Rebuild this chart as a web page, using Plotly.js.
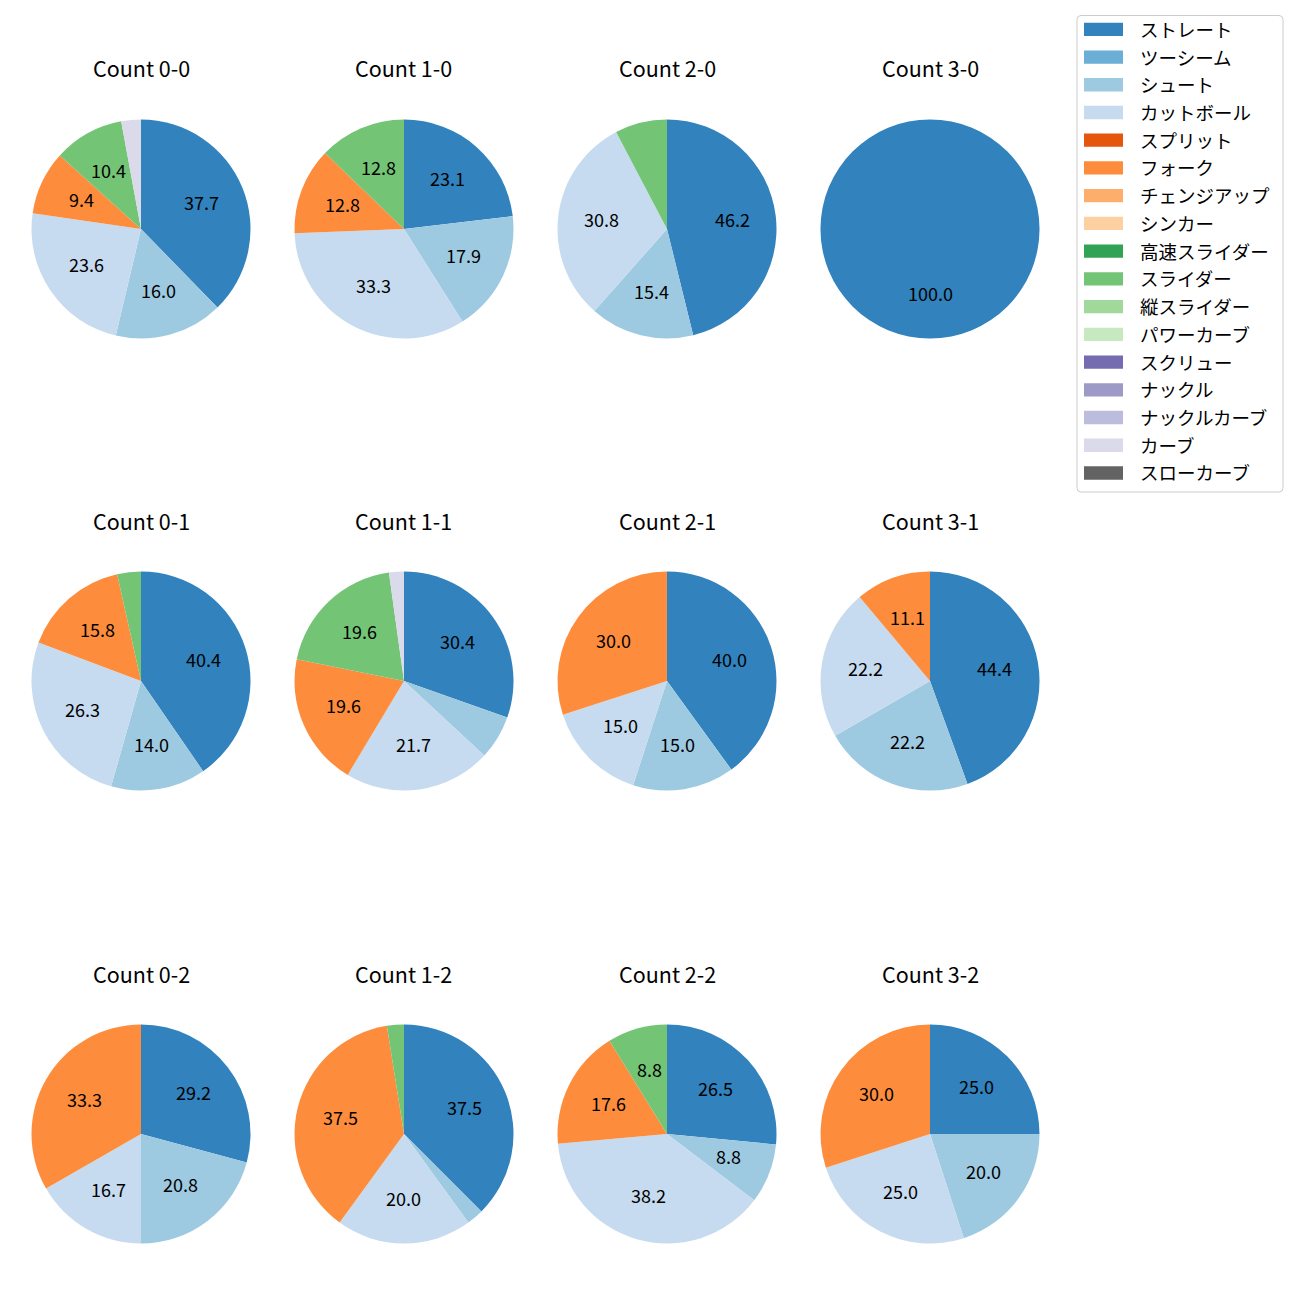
<!DOCTYPE html>
<html>
<head>
<meta charset="utf-8">
<script src="https://cdn.plot.ly/plotly-3.0.1.min.js"></script>
<style>body{margin:0;padding:0;background:#fff;}#chart{width:1300px;height:1300px;}</style>
</head>
<body>
<div id="chart"></div>
<script>
// Pitch types (legend order) and colours
const pitchTypes = ['ストレート','ツーシーム','シュート','カットボール','スプリット','フォーク','チェンジアップ','シンカー','高速スライダー','スライダー','縦スライダー','パワーカーブ','スクリュー','ナックル','ナックルカーブ','カーブ','スローカーブ'];
const pitchColors = ['#3182bd','#6baed6','#9ecae1','#c6dbef','#e6550d','#fd8d3c','#fdae6b','#fdd0a2','#31a354','#74c476','#a1d99b','#c7e9c0','#756bb1','#9e9ac8','#bcbddc','#dadaeb','#636363'];

// Count titles (row-major, 4 per row)
const countTitles = ['Count 0-0','Count 1-0','Count 2-0','Count 3-0','Count 0-1','Count 1-1','Count 2-1','Count 3-1','Count 0-2','Count 1-2','Count 2-2','Count 3-2'];

// Percentages per count, in pitchTypes order
const c00 = [37.7,0,16.0,23.6,0,9.4,0,0,0,10.4,0,0,0,0,0,2.9,0];
const c10 = [23.1,0,17.9,33.3,0,12.8,0,0,0,12.8,0,0,0,0,0,0,0];
const c20 = [46.2,0,15.4,30.8,0,0,0,0,0,7.7,0,0,0,0,0,0,0];
const c30 = [100.0,0,0,0,0,0,0,0,0,0,0,0,0,0,0,0,0];
const c01 = [40.4,0,14.0,26.3,0,15.8,0,0,0,3.5,0,0,0,0,0,0,0];
const c11 = [30.4,0,6.5,21.7,0,19.6,0,0,0,19.6,0,0,0,0,0,2.2,0];
const c21 = [40.0,0,15.0,15.0,0,30.0,0,0,0,0,0,0,0,0,0,0,0];
const c31 = [44.4,0,22.2,22.2,0,11.1,0,0,0,0,0,0,0,0,0,0,0];
const c02 = [29.2,0,20.8,16.7,0,33.3,0,0,0,0,0,0,0,0,0,0,0];
const c12 = [37.5,0,2.5,20.0,0,37.5,0,0,0,2.5,0,0,0,0,0,0,0];
const c22 = [26.5,0,8.8,38.2,0,17.6,0,0,0,8.8,0,0,0,0,0,0,0];
const c32 = [25.0,0,20.0,25.0,0,30.0,0,0,0,0,0,0,0,0,0,0,0];
const countValues = [c00,c10,c20,c30,c01,c11,c21,c31,c02,c12,c22,c32];

// layout geometry (pixels)
const W = 1300, H = 1300;
const colX = [141, 404, 667, 930];
const rowY = [229, 681, 1134];
const R = 109.5;
const titleDY = 160;
const labelMin = 8;
const labelShift = -2;

const FONT = '"Noto Sans CJK JP", "Noto Sans", sans-serif';
const px2x = p => p / W;
const px2y = p => 1 - p / H;
const traces = [];
const annotations = [];
const shapes = [];

countValues.forEach((vals, i) => {
  const cx = colX[i % 4], cy = rowY[Math.floor(i / 4)];
  traces.push({
    type: 'pie',
    labels: pitchTypes,
    values: vals,
    marker: {colors: pitchColors, line: {width: 0}},
    sort: false,
    direction: 'clockwise',
    rotation: 0,
    textinfo: 'none',
    hoverinfo: 'label+percent',
    domain: {x: [px2x(cx - R), px2x(cx + R)], y: [px2y(cy + R), px2y(cy - R)]},
    showlegend: false
  });
  annotations.push({
    text: countTitles[i], showarrow: false, xref: 'paper', yref: 'paper',
    x: px2x(cx), y: px2y(cy - titleDY - 1), xanchor: 'center', yanchor: 'middle',
    font: {family: FONT, size: 21.5, color: '#000'}
  });
  const total = vals.reduce((a, b) => a + b, 0);
  let cum = 0;
  vals.forEach(v => {
    if (v > 0) {
      const th = (cum + v / 2) / total * 2 * Math.PI;
      if (v >= labelMin) {
        const lx = cx + 0.6 * R * Math.sin(th);
        const ly = cy - 0.6 * R * Math.cos(th) + labelShift;
        annotations.push({
          text: v.toFixed(1), showarrow: false, xref: 'paper', yref: 'paper',
          x: px2x(lx), y: px2y(ly), xanchor: 'center', yanchor: 'middle',
          font: {family: FONT, size: 18, color: '#000'}
        });
      }
      cum += v;
    }
  });
});

// Legend (matplotlib-style box with wide swatches)
const lg = {left: 1077, right: 1283, top: 15.5, bottom: 492, r: 4, sw0: 1084, sw1: 1123, swH: 13.3, y0: 29.3, dy: 27.73, tx: 1138};
const rr = lg.r;
const boxPath = `M ${lg.left + rr},${lg.top} L ${lg.right - rr},${lg.top} Q ${lg.right},${lg.top} ${lg.right},${lg.top + rr} ` +
  `L ${lg.right},${lg.bottom - rr} Q ${lg.right},${lg.bottom} ${lg.right - rr},${lg.bottom} ` +
  `L ${lg.left + rr},${lg.bottom} Q ${lg.left},${lg.bottom} ${lg.left},${lg.bottom - rr} ` +
  `L ${lg.left},${lg.top + rr} Q ${lg.left},${lg.top} ${lg.left + rr},${lg.top} Z`;
// convert path in pixel coords to paper coords
const toPaperPath = s => s.replace(/(-?\d+(?:\.\d+)?),(-?\d+(?:\.\d+)?)/g, (m, a, b) => `${px2x(+a)},${px2y(+b)}`);
shapes.push({type: 'path', xref: 'paper', yref: 'paper', path: toPaperPath(boxPath),
  fillcolor: 'rgba(255,255,255,0.8)', line: {color: '#cccccc', width: 1}});
pitchTypes.forEach((name, k) => {
  const yc = lg.y0 + k * lg.dy;
  shapes.push({type: 'rect', xref: 'paper', yref: 'paper',
    x0: px2x(lg.sw0), x1: px2x(lg.sw1), y0: px2y(yc + lg.swH / 2), y1: px2y(yc - lg.swH / 2),
    fillcolor: pitchColors[k], line: {width: 0}});
  annotations.push({text: name, showarrow: false, xref: 'paper', yref: 'paper',
    x: px2x(lg.tx), y: px2y(yc - 0.5), xanchor: 'left', yanchor: 'middle',
    font: {family: FONT, size: 18.5, color: '#000'}});
});

const layout = {
  width: W, height: H,
  margin: {l: 0, r: 0, t: 0, b: 0},
  paper_bgcolor: '#fff',
  showlegend: false,
  shapes: shapes,
  annotations: annotations
};

Plotly.newPlot('chart', traces, layout, {staticPlot: true});
</script>
</body>
</html>
